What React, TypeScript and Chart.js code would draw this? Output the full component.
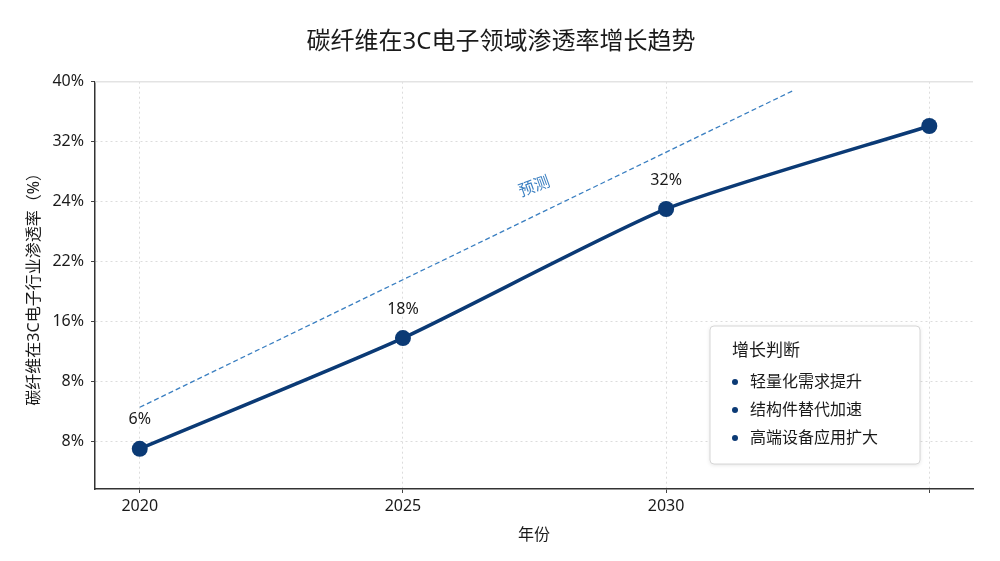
import React, { useEffect, useRef } from 'react';
import { Chart, registerables } from 'chart.js';

Chart.register(...registerables);

// ---- data ----
const years = [2020, 2025, 2030, 2035];
const penetration = [6, 18, 32, 41];
const labelledPoints = [true, true, true, false];

const forecastYears = [2020, 2032.4];
const forecastValues = [10.5, 44.8];

const yTickValues = [6.8, 13.3, 19.8, 26.3, 32.8, 39.3, 45.8];
const yTickLabels = ['8%', '8%', '16%', '22%', '24%', '32%', '40%'];
const xTickLabels = ['2020', '2025', '2030', ''];

const chartTitle = '碳纤维在3C电子领域渗透率增长趋势';
const xTitle = '年份';
const yTitle = '碳纤维在3C电子行业渗透率（%）';
const forecastLabel = '预测';
const legendTitle = '增长判断';
const legendItems = ['轻量化需求提升', '结构件替代加速', '高端设备应用扩大'];

// ---- style ----
const FONT = '"Noto Sans", "Noto Sans CJK SC", sans-serif';
const NAVY = '#0b3a75';
const FORECAST = '#3a7fc1';
const TEXT = '#1a1a1a';

const overlayPlugin = {
  id: 'overlay',
  beforeDatasetsDraw(chart: any) {
    const { ctx, chartArea: a } = chart;
    ctx.save();
    ctx.strokeStyle = '#e3e3e3';
    ctx.lineWidth = 1.5;
    ctx.beginPath();
    ctx.moveTo(a.left, a.top);
    ctx.lineTo(a.right, a.top);
    ctx.stroke();
    ctx.restore();
  },
  afterDatasetsDraw(chart: any) {
    const { ctx, chartArea: a, scales, width } = chart;
    const xs = scales.x;
    const ys = scales.y;

    // chart title, centred on the canvas
    ctx.save();
    ctx.font = `24px ${FONT}`;
    ctx.fillStyle = TEXT;
    ctx.textAlign = 'center';
    ctx.textBaseline = 'middle';
    ctx.fillText(chartTitle, width / 2 + 1, 42);
    ctx.restore();

    // value labels above the points
    ctx.save();
    ctx.font = `16px ${FONT}`;
    ctx.fillStyle = TEXT;
    ctx.textAlign = 'center';
    ctx.textBaseline = 'middle';
    years.forEach((yr, i) => {
      if (!labelledPoints[i]) return;
      ctx.fillText(
        `${penetration[i]}%`,
        xs.getPixelForValue(yr),
        ys.getPixelForValue(penetration[i]) - 29
      );
    });
    ctx.restore();

    // forecast label along the dashed trend
    const fx = 2027.5;
    const t = (fx - forecastYears[0]) / (forecastYears[1] - forecastYears[0]);
    const fv = forecastValues[0] + t * (forecastValues[1] - forecastValues[0]);
    ctx.save();
    ctx.translate(xs.getPixelForValue(fx), ys.getPixelForValue(fv) - 29);
    ctx.rotate((-20 * Math.PI) / 180);
    ctx.font = `16px ${FONT}`;
    ctx.fillStyle = FORECAST;
    ctx.textAlign = 'center';
    ctx.textBaseline = 'middle';
    ctx.fillText(forecastLabel, 0, 0);
    ctx.restore();

    // note box with growth drivers
    const bw = 210;
    const bh = 138;
    const bx = a.right - 53 - bw;
    const by = a.bottom - 25 - bh;
    ctx.save();
    ctx.shadowColor = 'rgba(0,0,0,0.12)';
    ctx.shadowBlur = 4;
    ctx.shadowOffsetY = 1;
    ctx.fillStyle = '#ffffff';
    ctx.beginPath();
    ctx.roundRect(bx, by, bw, bh, 4);
    ctx.fill();
    ctx.shadowColor = 'transparent';
    ctx.strokeStyle = '#d6d6d6';
    ctx.lineWidth = 1;
    ctx.stroke();

    ctx.fillStyle = TEXT;
    ctx.textAlign = 'left';
    ctx.textBaseline = 'middle';
    ctx.font = `17px ${FONT}`;
    ctx.fillText(legendTitle, bx + 22, by + 25);
    ctx.font = `16px ${FONT}`;
    legendItems.forEach((item, i) => {
      const iy = by + 56 + i * 28;
      ctx.fillStyle = NAVY;
      ctx.beginPath();
      ctx.arc(bx + 25, iy, 3, 0, Math.PI * 2);
      ctx.fill();
      ctx.fillStyle = TEXT;
      ctx.fillText(item, bx + 40, iy);
    });
    ctx.restore();
  },
};

export default function App() {
  const canvasRef = useRef<HTMLCanvasElement | null>(null);

  useEffect(() => {
    if (!canvasRef.current) return;
    const chart = new Chart(canvasRef.current, {
      type: 'line',
      data: {
        datasets: [
          {
            label: 'trend',
            data: years.map((yr, i) => ({ x: yr, y: penetration[i] })),
            borderColor: NAVY,
            backgroundColor: NAVY,
            borderWidth: 3.5,
            pointRadius: 8,
            pointHoverRadius: 8,
            pointBackgroundColor: NAVY,
            pointBorderWidth: 0,
            tension: 0.2,
            order: 1,
          },
          {
            label: 'forecast',
            data: forecastYears.map((yr, i) => ({ x: yr, y: forecastValues[i] })),
            borderColor: FORECAST,
            borderWidth: 1.3,
            borderDash: [5, 3],
            pointRadius: 0,
            tension: 0,
            order: 2,
          },
        ],
      },
      options: {
        responsive: false,
        animation: false,
        devicePixelRatio: 1,
        layout: { padding: { left: 0, right: 27, top: 81.7, bottom: 0 } },
        plugins: {
          legend: { display: false },
          tooltip: { enabled: false },
          title: { display: false },
        },
        scales: {
          x: {
            type: 'linear',
            min: 2019.15,
            max: 2035.83,
            afterBuildTicks: (scale: any) => {
              scale.ticks = years.map((v) => ({ value: v }));
            },
            afterFit: (scale: any) => {
              scale.height = 72;
            },
            ticks: {
              autoSkip: false,
              maxRotation: 0,
              padding: 4,
              color: TEXT,
              font: { family: FONT, size: 16 },
              callback: (_v: any, i: number) => xTickLabels[i],
            },
            grid: {
              color: '#dcdcdc',
              lineWidth: 1,
              tickColor: '#444',
              tickLength: 4,
            },
            border: { color: '#333', width: 1.5, dash: [2, 3] },
            title: {
              display: true,
              text: xTitle,
              color: TEXT,
              font: { family: FONT, size: 16 },
              padding: { top: 0, bottom: 16 },
            },
          },
          y: {
            type: 'linear',
            min: 1.64,
            max: 45.8,
            afterBuildTicks: (scale: any) => {
              scale.ticks = yTickValues.map((v) => ({ value: v }));
            },
            afterFit: (scale: any) => {
              scale.width = 95;
            },
            ticks: {
              autoSkip: false,
              padding: 7,
              color: TEXT,
              font: { family: FONT, size: 16 },
              callback: (_v: any, i: number) => yTickLabels[i],
            },
            grid: {
              color: '#dcdcdc',
              lineWidth: 1,
              tickColor: '#444',
              tickLength: 4,
            },
            border: { color: '#333', width: 1.5, dash: [2, 3] },
            title: {
              display: true,
              text: yTitle,
              color: TEXT,
              font: { family: FONT, size: 16 },
              padding: { top: 25, bottom: 0 },
            },
          },
        },
      },
      plugins: [overlayPlugin],
    });
    return () => chart.destroy();
  }, []);

  return (
    <div style={{ position: 'fixed', left: 0, top: 0, width: 1000, height: 561, background: '#fff' }}>
      <canvas ref={canvasRef} width={1000} height={561} />
    </div>
  );
}
